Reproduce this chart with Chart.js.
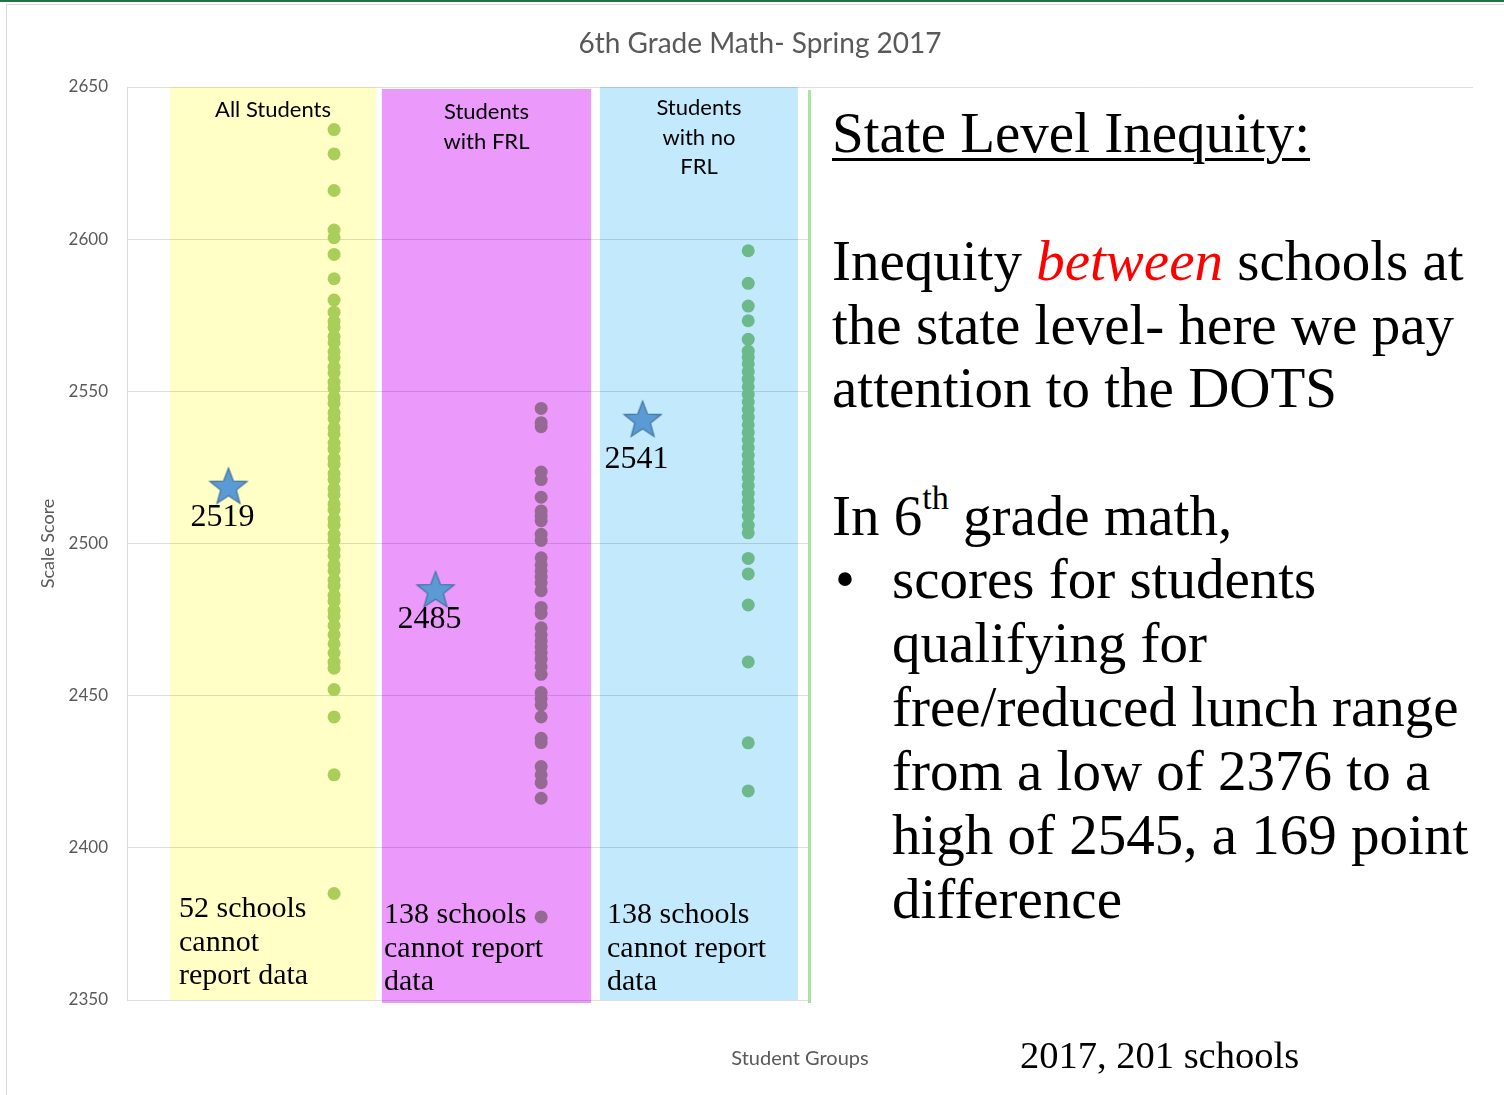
<!DOCTYPE html>
<html>
<head>
<meta charset="utf-8">
<title>6th Grade Math- Spring 2017</title>
<script src="https://cdn.jsdelivr.net/npm/chart.js@4.4.1/dist/chart.umd.min.js"></script>
<style>
  html, body { margin: 0; padding: 0; background: #fff; }
  body { width: 1504px; height: 1095px; position: relative; overflow: hidden; }
  #topline { position: absolute; left: 0; top: 0; width: 1504px; height: 2px; background: #217346; }
  #frame { position: absolute; left: 6px; top: 4px; width: 1498px; height: 1091px; border-left: 1px solid #d9d9d9; border-top: 1px solid #d9d9d9; }
  canvas { position: absolute; left: 0; top: 0; }
  .sans { font-family: Lato, "Open Sans", sans-serif; }
  .serif { font-family: "Liberation Serif", serif; color: #000; white-space: nowrap; }
  .abs { position: absolute; }
  #title { top: 25px; left: 0; width: 1520px; text-align: center; font-size: 28px; color: #595959; }
  #notes { left: 808px; top: 90px; width: 696px; height: 913px; background: #fff; border-left: 3px solid #a9e2a1; }
  .foot { font-size: 30px; line-height: 33.5px; }
  .big { font-size: 57px; line-height: 64px; }
  .red { color: #ff0000; font-style: italic; }
  sup { font-size: 0.6em; vertical-align: 0.75em; line-height: 0; }
</style>
</head>
<body>
<div id="topline"></div>
<div id="frame"></div>
<canvas id="chart" width="1504" height="1095"></canvas>
<div id="title" class="abs sans">6th Grade Math- Spring 2017</div>

<div class="abs serif foot" style="left:179px; top:890px;">52 schools<br>cannot<br>report data</div>
<div class="abs serif foot" style="left:384px; top:896px;">138 schools<br>cannot report<br>data</div>
<div class="abs serif foot" style="left:607px; top:896px;">138 schools<br>cannot report<br>data</div>

<div id="notes" class="abs"></div>
<div class="abs serif big" style="left:832px; top:101px; text-decoration: underline; text-decoration-thickness: 3px; text-underline-offset: 6px;">State Level Inequity:</div>
<div class="abs serif big" style="left:832px; top:229px; line-height:63.5px;">Inequity <span class="red">between</span> schools at<br>the state level- here we pay<br>attention to the DOTS</div>
<div class="abs serif big" style="left:832px; top:484px;">In 6<sup>th</sup> grade math,</div>
<div class="abs serif big" style="left:835px; top:547px;">•</div>
<div class="abs serif big" style="left:892px; top:547px;">scores for students<br>qualifying for<br>free/reduced lunch range<br>from a low of 2376 to a<br>high of 2545, a 169 point<br>difference</div>
<div class="abs serif" style="left:1020px; top:1032px; font-size:38.5px; line-height:1.2;">2017, 201 schools</div>

<script>
// Student groups (categories)
const groups = [["All Students"], ["Students", "with FRL"], ["Students", "with no", "FRL"]];

// School scale scores
const allStudents = [
  2636, 2628, 2616, 2603, 2600.5, 2595, 2587, 2580,
  2576, 2573, 2571, 2568, 2566, 2563, 2561, 2558, 2556, 2553, 2551, 2548,
  2546, 2543, 2541, 2538, 2536, 2533, 2531, 2528, 2526, 2523, 2521, 2518,
  2516, 2513, 2511, 2508, 2506, 2503, 2501, 2498, 2496, 2493, 2491, 2488,
  2486, 2483, 2481, 2478, 2476, 2473, 2470, 2467, 2464, 2461, 2459,
  2452, 2443, 2424, 2385
];
const withFRL = [
  2544.4, 2539.7, 2538.4, 2523.5, 2521, 2515.2, 2510.7, 2509, 2507.5, 2503,
  2501, 2495.3, 2493, 2491, 2489, 2487, 2484.5, 2479, 2477, 2472.3, 2470,
  2468, 2466, 2464, 2462, 2459.5, 2457, 2451, 2449, 2447, 2443, 2436,
  2434.6, 2426.7, 2424, 2421.4, 2416.3, 2377.3
];
const noFRL = [
  2596.2, 2585.5, 2578, 2573.2, 2567.1, 2563.2, 2561.2,
  2559, 2556.5, 2554, 2551.5, 2549, 2546.5, 2544, 2541.5, 2539, 2536.5,
  2534, 2531.5, 2529, 2526.5, 2524, 2521.5, 2519, 2516.5, 2514, 2511.5,
  2509, 2506, 2503.5, 2495.1, 2490, 2479.8, 2461.1, 2434.5, 2418.7
];

// Group averages (stars)
const means = [2519, 2485, 2541];

// Band extents in x-axis units, and how far below each star its label sits
const bands = [
  { from: 0.208, to: 1.202, color: "#ffffc6" },
  { from: 1.231, to: 2.241, color: "#eb99fb" },
  { from: 2.284, to: 3.240, color: "#c3e9fd" }
];
const labelDrop = [40, 39, 49];

function makeStar(size) {
  const c = document.createElement("canvas");
  c.width = c.height = size;
  const g = c.getContext("2d");
  const R = 19.5, r = R * 0.42;
  const cx = size / 2, cy = size / 2 + 0.0955 * R;
  g.beginPath();
  for (let i = 0; i < 10; i++) {
    const a = -Math.PI / 2 + i * Math.PI / 5;
    const rad = i % 2 ? r : R;
    g.lineTo(cx + rad * Math.cos(a), cy + rad * Math.sin(a));
  }
  g.closePath();
  g.fillStyle = "#5b9bd5";
  g.fill();
  g.strokeStyle = "#41719c";
  g.lineWidth = 1.2;
  g.stroke();
  return c;
}
const star = makeStar(42);

const bandPlugin = {
  id: "bands",
  beforeDraw(chart) {
    const { ctx, scales: { x, y } } = chart;
    const top = y.getPixelForValue(2650), bottom = y.getPixelForValue(2350);
    ctx.save();
    bands.forEach((b, i) => {
      const l = x.getPixelForValue(b.from), r = x.getPixelForValue(b.to);
      ctx.fillStyle = b.color;
      ctx.fillRect(l, top + (i === 1 ? 2 : 0), r - l, bottom - top + (i === 1 ? 1 : 0));
      ctx.fillStyle = "#000";
      ctx.font = "22px Lato";
      ctx.textAlign = "center";
      ctx.textBaseline = "middle";
      const lineY = i === 0 ? 110 : (i === 1 ? 112 : 108);
      groups[i].forEach((t, k) => ctx.fillText(t, (l + r) / 2, lineY + k * 29.5));
    });
    ctx.restore();
  },
  afterDatasetsDraw(chart) {
    const { ctx } = chart;
    const meta = chart.getDatasetMeta(3);
    ctx.save();
    ctx.fillStyle = "#000";
    ctx.font = "32px 'Liberation Serif'";
    ctx.textAlign = "center";
    ctx.textBaseline = "alphabetic";
    meta.data.forEach((p, i) => ctx.fillText(String(means[i]), p.x - 6, p.y + labelDrop[i]));
    ctx.restore();
  }
};

const dots = (vals, gx, color) => ({
  data: vals.map(v => ({ x: gx, y: v })),
  backgroundColor: color,
  borderColor: color,
  pointRadius: 6.5,
  borderWidth: 0
});

new Chart(document.getElementById("chart").getContext("2d"), {
  type: "scatter",
  data: {
    datasets: [
      dots(allStudents, 1, "#a9cf5a"),
      dots(withFRL, 2, "#956a92"),
      dots(noFRL, 3, "#6cb98c"),
      {
        data: means.map((m, i) => ({ x: i + 0.49, y: m })),
        pointStyle: star,
        pointRadius: 20
      }
    ]
  },
  options: {
    responsive: false,
    animation: false,
    events: [],
    layout: { padding: { left: 0, right: 31, top: 87, bottom: 0 } },
    plugins: { legend: { display: false }, tooltip: { enabled: false } },
    scales: {
      x: {
        type: "linear",
        min: 0,
        max: 6.5,
        grid: { display: false },
        border: { display: false },
        ticks: { display: false },
        title: { display: true, text: "Student Groups", color: "#595959", font: { family: "Lato", size: 20 }, padding: { top: 0, bottom: 24 } },
        afterFit(s) { s.height = 95; }
      },
      y: {
        min: 2350,
        max: 2650,
        ticks: { stepSize: 50, color: "#595959", font: { family: "Lato", size: 17 }, padding: 19, callback: v => String(v) },
        grid: { color: "rgba(0,0,0,0.13)", drawTicks: false },
        border: { color: "#d9d9d9" },
        title: { display: true, text: "Scale Score", color: "#595959", font: { family: "Lato", size: 18 }, padding: { top: 37, bottom: 0 } },
        afterFit(s) { s.width = 127; }
      }
    }
  },
  plugins: [bandPlugin]
});
</script>
</body>
</html>
